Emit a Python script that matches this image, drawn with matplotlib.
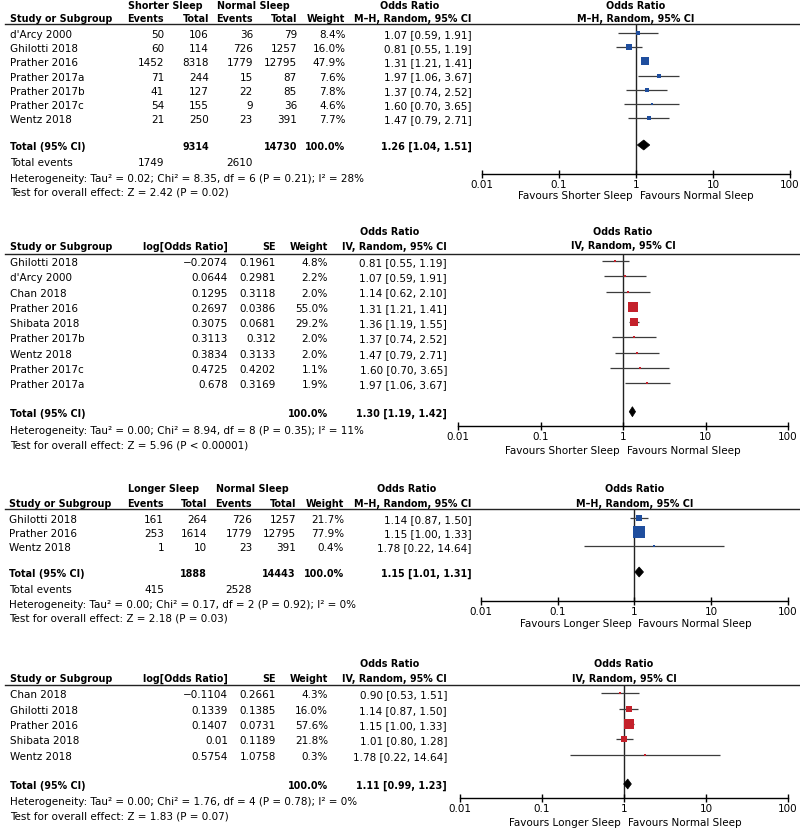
import matplotlib
matplotlib.use('Agg')
import matplotlib.pyplot as plt
from matplotlib.patches import Polygon
from matplotlib.ticker import NullLocator
import numpy as np

plt.rcParams['font.family'] = ['DejaVu Sans']
FS = 7.45
FSB = 6.95
W, H = 800, 829

BLUE = '#1f4e9e'
RED = '#c4212b'
LINEC = '#3c3c3c'

# ---------------- Panel 1: shorter vs normal (M-H) ----------------
p1_studies = ["d'Arcy 2000", "Ghilotti 2018", "Prather 2016", "Prather 2017a",
              "Prather 2017b", "Prather 2017c", "Wentz 2018"]
p1_exp_events = [50, 60, 1452, 71, 41, 54, 21]
p1_exp_total = [106, 114, 8318, 244, 127, 155, 250]
p1_ctl_events = [36, 726, 1779, 15, 22, 9, 23]
p1_ctl_total = [79, 1257, 12795, 87, 85, 36, 391]
p1_weight = [8.4, 16.0, 47.9, 7.6, 7.8, 4.6, 7.7]
p1_or = [1.07, 0.81, 1.31, 1.97, 1.37, 1.60, 1.47]
p1_lo = [0.59, 0.55, 1.21, 1.06, 0.74, 0.70, 0.79]
p1_hi = [1.91, 1.19, 1.41, 3.67, 2.52, 3.65, 2.71]
p1_tot = [1.26, 1.04, 1.51]
p1_tot_n = [9314, 14730]
p1_tot_events = [1749, 2610]
p1_het = "Heterogeneity: Tau² = 0.02; Chi² = 8.35, df = 6 (P = 0.21); I² = 28%"
p1_test = "Test for overall effect: Z = 2.42 (P = 0.02)"

# ---------------- Panel 2: shorter vs normal (IV) ----------------
p2_studies = ["Ghilotti 2018", "d'Arcy 2000", "Chan 2018", "Prather 2016", "Shibata 2018",
              "Prather 2017b", "Wentz 2018", "Prather 2017c", "Prather 2017a"]
p2_logor = [-0.2074, 0.0644, 0.1295, 0.2697, 0.3075, 0.3113, 0.3834, 0.4725, 0.678]
p2_se = [0.1961, 0.2981, 0.3118, 0.0386, 0.0681, 0.312, 0.3133, 0.4202, 0.3169]
p2_weight = [4.8, 2.2, 2.0, 55.0, 29.2, 2.0, 2.0, 1.1, 1.9]
p2_or = [0.81, 1.07, 1.14, 1.31, 1.36, 1.37, 1.47, 1.60, 1.97]
p2_lo = [0.55, 0.59, 0.62, 1.21, 1.19, 0.74, 0.79, 0.70, 1.06]
p2_hi = [1.19, 1.91, 2.10, 1.41, 1.55, 2.52, 2.71, 3.65, 3.67]
p2_tot = [1.30, 1.19, 1.42]
p2_het = "Heterogeneity: Tau² = 0.00; Chi² = 8.94, df = 8 (P = 0.35); I² = 11%"
p2_test = "Test for overall effect: Z = 5.96 (P < 0.00001)"

# ---------------- Panel 3: longer vs normal (M-H) ----------------
p3_studies = ["Ghilotti 2018", "Prather 2016", "Wentz 2018"]
p3_exp_events = [161, 253, 1]
p3_exp_total = [264, 1614, 10]
p3_ctl_events = [726, 1779, 23]
p3_ctl_total = [1257, 12795, 391]
p3_weight = [21.7, 77.9, 0.4]
p3_or = [1.14, 1.15, 1.78]
p3_lo = [0.87, 1.00, 0.22]
p3_hi = [1.50, 1.33, 14.64]
p3_tot = [1.15, 1.01, 1.31]
p3_tot_n = [1888, 14443]
p3_tot_events = [415, 2528]
p3_het = "Heterogeneity: Tau² = 0.00; Chi² = 0.17, df = 2 (P = 0.92); I² = 0%"
p3_test = "Test for overall effect: Z = 2.18 (P = 0.03)"

# ---------------- Panel 4: longer vs normal (IV) ----------------
p4_studies = ["Chan 2018", "Ghilotti 2018", "Prather 2016", "Shibata 2018", "Wentz 2018"]
p4_logor = [-0.1104, 0.1339, 0.1407, 0.01, 0.5754]
p4_se = [0.2661, 0.1385, 0.0731, 0.1189, 1.0758]
p4_weight = [4.3, 16.0, 57.6, 21.8, 0.3]
p4_or = [0.90, 1.14, 1.15, 1.01, 1.78]
p4_lo = [0.53, 0.87, 1.00, 0.80, 0.22]
p4_hi = [1.51, 1.50, 1.33, 1.28, 14.64]
p4_tot = [1.11, 0.99, 1.23]
p4_het = "Heterogeneity: Tau² = 0.00; Chi² = 1.76, df = 4 (P = 0.78); I² = 0%"
p4_test = "Test for overall effect: Z = 1.83 (P = 0.07)"

fig = plt.figure(figsize=(W / 100, H / 100), dpi=100)
tx = fig.add_axes([0, 0, 1, 1])
tx.set_xlim(0, W)
tx.set_ylim(H, 0)
tx.axis('off')


def T(x, y, s, ha='left', bold=False, **kw):
    if bold:
        tx.text(x, y, s, ha=ha, va='baseline', fontsize=FSB,
                fontweight='bold', color='black', **kw)
    else:
        tx.text(x, y, s, ha=ha, va='baseline', fontsize=FS, color='black', **kw)


def ci_str(o, l, h):
    return f"{o:.2f} [{l:.2f}, {h:.2f}]"


def num(v):
    return f"{v:g}".replace('-', '−')


def forest(x001, x100, rule_y, axis_y, ys, tot_y, ors, los, his, wts, tot, color,
           favL, favR, tick_base, fav_base, head1, head2, h1y, h2y):
    ax = fig.add_axes([x001 / W, 1 - axis_y / H, (x100 - x001) / W, (axis_y - rule_y) / H])
    ax.patch.set_alpha(0)
    ax.set_xscale('log')
    ax.set_xlim(0.01, 100)
    ax.set_ylim(axis_y, rule_y)
    for s in ['top', 'right', 'left']:
        ax.spines[s].set_visible(False)
    ax.spines['bottom'].set_color('black')
    ax.spines['bottom'].set_linewidth(1.0)
    ax.set_yticks([])
    ax.set_xticks([0.01, 0.1, 1, 10, 100])
    ax.set_xticklabels([])
    ax.xaxis.set_minor_locator(NullLocator())
    ax.tick_params(axis='x', direction='inout', length=6, width=1.0, color='black')
    ax.axvline(1, color='#222222', lw=1.0, zorder=1)
    for y, o, l, h, w in zip(ys, ors, los, his, wts):
        ax.plot([l, h], [y, y], color=LINEC, lw=0.9, solid_capstyle='butt', zorder=2)
        side_px = max(2.2, 1.3 * np.sqrt(w))
        ax.scatter([o], [y], marker='s', s=(side_px * 0.72) ** 2, color=color,
                   linewidths=0, zorder=3)
    est, lo, hi = tot
    hh = 5.0
    ax.add_patch(Polygon([(lo, tot_y), (est, tot_y - hh), (hi, tot_y), (est, tot_y + hh)],
                         closed=True, facecolor='black', edgecolor='black', lw=0.5, zorder=4))
    one = (x001 + x100) / 2
    for v, lab in zip([0.01, 0.1, 1, 10, 100], ['0.01', '0.1', '1', '10', '100']):
        px = x001 + (np.log10(v) + 2) / 4 * (x100 - x001)
        T(px, tick_base, lab, ha='center')
    T(one - 3, fav_base, favL, ha='right')
    T(one + 4, fav_base, favR, ha='left')
    T(one, h1y, head1, ha='center', bold=True)
    T(one, h2y, head2, ha='center', bold=True)
    return ax


def rule(y):
    tx.plot([5, 799], [y, y], color='#222222', lw=1.0)


# ============ Panel 1 ============
c = dict(ev1=164, tot1=209, ev2=253, tot2=297, wt=345.5, ci=471.5)
h1, h2, r = 8.5, 22, 25
T(165, h1, "Shorter Sleep", ha='center', bold=True)
T(253.5, h1, "Normal Sleep", ha='center', bold=True)
T(410, h1, "Odds Ratio", ha='center', bold=True)
T(10, h2, "Study or Subgroup", bold=True)
T(c['ev1'], h2, "Events", ha='right', bold=True)
T(c['tot1'], h2, "Total", ha='right', bold=True)
T(c['ev2'], h2, "Events", ha='right', bold=True)
T(c['tot2'], h2, "Total", ha='right', bold=True)
T(c['wt'], h2, "Weight", ha='right', bold=True)
T(c['ci'], h2, "M–H, Random, 95% CI", ha='right', bold=True)
rule(r)
ys1 = [38 + 14.17 * i for i in range(len(p1_studies))]
for i, y in enumerate(ys1):
    T(10, y, p1_studies[i])
    T(c['ev1'], y, str(p1_exp_events[i]), ha='right')
    T(c['tot1'], y, str(p1_exp_total[i]), ha='right')
    T(c['ev2'], y, str(p1_ctl_events[i]), ha='right')
    T(c['tot2'], y, str(p1_ctl_total[i]), ha='right')
    T(c['wt'], y, f"{p1_weight[i]:.1f}%", ha='right')
    T(c['ci'], y, ci_str(p1_or[i], p1_lo[i], p1_hi[i]), ha='right')
ty = 150
T(10, ty, "Total (95% CI)", bold=True)
T(c['tot1'], ty, str(p1_tot_n[0]), ha='right', bold=True)
T(c['tot2'], ty, str(p1_tot_n[1]), ha='right', bold=True)
T(c['wt'], ty, "100.0%", ha='right', bold=True)
T(c['ci'], ty, ci_str(*p1_tot), ha='right', bold=True)
T(10, 166, "Total events")
T(c['ev1'], 166, str(p1_tot_events[0]), ha='right')
T(c['ev2'], 166, str(p1_tot_events[1]), ha='right')
T(10, 181.5, p1_het)
T(10, 195.5, p1_test)
forest(482, 790, r, 175, [y - 4 for y in ys1], ty - 4, p1_or, p1_lo, p1_hi, p1_weight,
       p1_tot, BLUE, "Favours Shorter Sleep", "Favours Normal Sleep", 188, 199,
       "Odds Ratio", "M–H, Random, 95% CI", h1, 21.7)

# ============ Panel 2 ============
c2 = dict(lor=228, se=276, wt=328, ci=447)
h1, h2, r = 234.5, 249.5, 255
T(390, h1, "Odds Ratio", ha='center', bold=True)
T(10, h2, "Study or Subgroup", bold=True)
T(c2['lor'], h2, "log[Odds Ratio]", ha='right', bold=True)
T(c2['se'], h2, "SE", ha='right', bold=True)
T(c2['wt'], h2, "Weight", ha='right', bold=True)
T(c2['ci'], h2, "IV, Random, 95% CI", ha='right', bold=True)
rule(r)
ys2 = [266 + 15.29 * i for i in range(len(p2_studies))]
for i, y in enumerate(ys2):
    T(10, y, p2_studies[i])
    T(c2['lor'], y, num(p2_logor[i]), ha='right')
    T(c2['se'], y, num(p2_se[i]), ha='right')
    T(c2['wt'], y, f"{p2_weight[i]:.1f}%", ha='right')
    T(c2['ci'], y, ci_str(p2_or[i], p2_lo[i], p2_hi[i]), ha='right')
ty = 416.7
T(10, ty, "Total (95% CI)", bold=True)
T(c2['wt'], ty, "100.0%", ha='right', bold=True)
T(c2['ci'], ty, ci_str(*p2_tot), ha='right', bold=True)
T(10, 433.5, p2_het)
T(10, 448.3, p2_test)
forest(458, 788, r, 426.7, [y - 4 for y in ys2], ty - 4, p2_or, p2_lo, p2_hi, p2_weight,
       p2_tot, RED, "Favours Shorter Sleep", "Favours Normal Sleep", 440.5, 454,
       "Odds Ratio", "IV, Random, 95% CI", h1, 249)

# ============ Panel 3 ============
c3 = dict(ev1=164, tot1=207, ev2=252, tot2=296, wt=344, ci=471.5)
h1, h2, r = 492, 506.7, 510
T(163.5, h1, "Longer Sleep", ha='center', bold=True)
T(252, h1, "Normal Sleep", ha='center', bold=True)
T(407, h1, "Odds Ratio", ha='center', bold=True)
T(9, h2, "Study or Subgroup", bold=True)
T(c3['ev1'], h2, "Events", ha='right', bold=True)
T(c3['tot1'], h2, "Total", ha='right', bold=True)
T(c3['ev2'], h2, "Events", ha='right', bold=True)
T(c3['tot2'], h2, "Total", ha='right', bold=True)
T(c3['wt'], h2, "Weight", ha='right', bold=True)
T(c3['ci'], h2, "M–H, Random, 95% CI", ha='right', bold=True)
rule(r)
ys3 = [522.7 + 14.2 * i for i in range(len(p3_studies))]
for i, y in enumerate(ys3):
    T(9, y, p3_studies[i])
    T(c3['ev1'], y, str(p3_exp_events[i]), ha='right')
    T(c3['tot1'], y, str(p3_exp_total[i]), ha='right')
    T(c3['ev2'], y, str(p3_ctl_events[i]), ha='right')
    T(c3['tot2'], y, str(p3_ctl_total[i]), ha='right')
    T(c3['wt'], y, f"{p3_weight[i]:.1f}%", ha='right')
    T(c3['ci'], y, ci_str(p3_or[i], p3_lo[i], p3_hi[i]), ha='right')
ty = 577
T(9, ty, "Total (95% CI)", bold=True)
T(c3['tot1'], ty, str(p3_tot_n[0]), ha='right', bold=True)
T(c3['tot2'], ty, str(p3_tot_n[1]), ha='right', bold=True)
T(c3['wt'], ty, "100.0%", ha='right', bold=True)
T(c3['ci'], ty, ci_str(*p3_tot), ha='right', bold=True)
T(9, 593, "Total events")
T(c3['ev1'], 593, str(p3_tot_events[0]), ha='right')
T(c3['ev2'], 593, str(p3_tot_events[1]), ha='right')
T(9, 607.5, p3_het)
T(9, 621.7, p3_test)
forest(481, 788, r, 601.7, [y - 4 for y in ys3], ty - 4, p3_or, p3_lo, p3_hi, p3_weight,
       p3_tot, BLUE, "Favours Longer Sleep", "Favours Normal Sleep", 615, 627,
       "Odds Ratio", "M–H, Random, 95% CI", h1, 506.7)

# ============ Panel 4 ============
h1, h2, r = 667, 682, 685.7
T(390, h1, "Odds Ratio", ha='center', bold=True)
T(10, h2, "Study or Subgroup", bold=True)
T(c2['lor'], h2, "log[Odds Ratio]", ha='right', bold=True)
T(c2['se'], h2, "SE", ha='right', bold=True)
T(c2['wt'], h2, "Weight", ha='right', bold=True)
T(c2['ci'], h2, "IV, Random, 95% CI", ha='right', bold=True)
rule(r)
ys4 = [698.3 + 15.4 * i for i in range(len(p4_studies))]
for i, y in enumerate(ys4):
    T(10, y, p4_studies[i])
    T(c2['lor'], y, num(p4_logor[i]), ha='right')
    T(c2['se'], y, num(p4_se[i]), ha='right')
    T(c2['wt'], y, f"{p4_weight[i]:.1f}%", ha='right')
    T(c2['ci'], y, ci_str(p4_or[i], p4_lo[i], p4_hi[i]), ha='right')
ty = 789
T(10, ty, "Total (95% CI)", bold=True)
T(c2['wt'], ty, "100.0%", ha='right', bold=True)
T(c2['ci'], ty, ci_str(*p4_tot), ha='right', bold=True)
T(10, 805, p4_het)
T(10, 820, p4_test)
forest(460, 788, r, 799, [y - 4 for y in ys4], ty - 4, p4_or, p4_lo, p4_hi, p4_weight,
       p4_tot, RED, "Favours Longer Sleep", "Favours Normal Sleep", 811.7, 826.5,
       "Odds Ratio", "IV, Random, 95% CI", h1, 682)

fig.savefig('out.png', dpi=100)
